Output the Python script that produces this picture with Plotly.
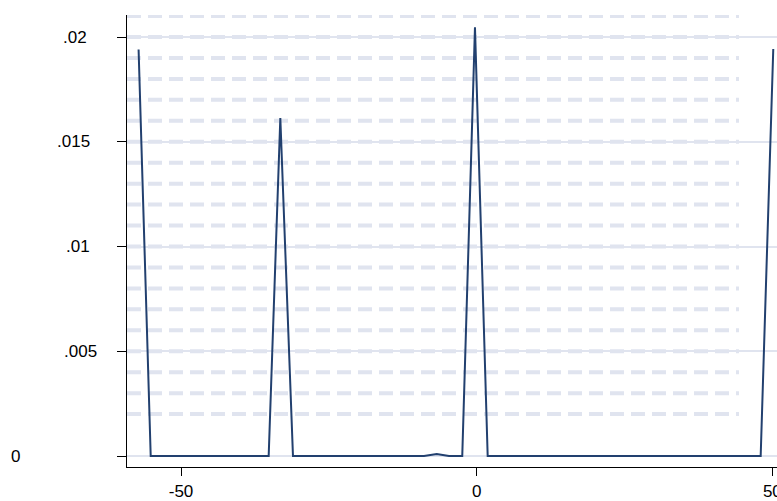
import plotly.graph_objects as go

# Data
x_vals = [-57.18, -55.13, -35.18, -33.21, -31.07, -8.91, -6.76, -4.68, -2.44, -0.29, 1.86, 48.03, 50.16]
y_vals = [0.0194, 0.0, 0.0, 0.01613, 0.0, 0.0, 0.0001, 0.0, 0.0, 0.02046, 0.0, 0.0, 0.01943]

y_ticks = [0, 0.005, 0.01, 0.015, 0.02]
y_tick_labels = ["0", ".005", ".01", ".015", ".02"]
x_ticks = [-50, 0, 50]
x_tick_labels = ["-50", "0", "50"]

# dashed background guide levels
dash_levels = [round(0.002 + 0.001 * i, 3) for i in range(20)]

line_color = "#22406f"
grid_color = "#e0e4ef"
font = "Liberation Sans, Arial, sans-serif"

fig = go.Figure()
fig.add_trace(go.Scatter(x=x_vals, y=y_vals, mode="lines",
                         line=dict(color=line_color, width=2),
                         hoverinfo="skip", showlegend=False))

shapes = []
for lv in dash_levels:
    shapes.append(dict(type="line", xref="paper", yref="y", x0=0, x1=0.9415,
                       y0=lv, y1=lv, layer="below",
                       line=dict(color=grid_color, width=4, dash="14px,7px")))

# y tick labels as annotations (irregular horizontal placement in the original)
label_centers = [15, 80, 78, 73.5, 75]
annotations = []
for v, t, c in zip(y_ticks, y_tick_labels, label_centers):
    annotations.append(dict(x=0, xref="paper", y=v, yref="y", text=t,
                            showarrow=False, xanchor="center", yanchor="middle",
                            xshift=c - 127, font=dict(family=font, size=17, color="#000")))

fig.update_layout(
    width=777, height=501,
    margin=dict(l=127, r=0, t=15, b=34, autoexpand=False),
    paper_bgcolor="white", plot_bgcolor="white",
    shapes=shapes, annotations=annotations,
    font=dict(family=font, size=17, color="#000"),
    xaxis=dict(range=[-59.14, 50.79], tickvals=x_ticks, ticktext=x_tick_labels,
               showgrid=False, zeroline=False, showline=True, linecolor="#000",
               linewidth=1.3, ticks="outside", ticklen=8, tickcolor="#000",
               tickwidth=1.3, ticklabeloverflow="allow", automargin=False,
               tickfont=dict(family=font, size=17, color="#000")),
    yaxis=dict(range=[-0.000525, 0.02105], tickvals=y_ticks, showticklabels=False,
               showgrid=True, gridcolor=grid_color, gridwidth=2, zeroline=False,
               showline=True, linecolor="#000", linewidth=1.3, ticks="outside",
               ticklen=9, tickcolor="#000", tickwidth=1.3, automargin=False),
)

fig.write_html("out.html", config={"displayModeBar": False},
               post_script="document.body.style.margin='0';document.body.style.overflow='hidden';")
